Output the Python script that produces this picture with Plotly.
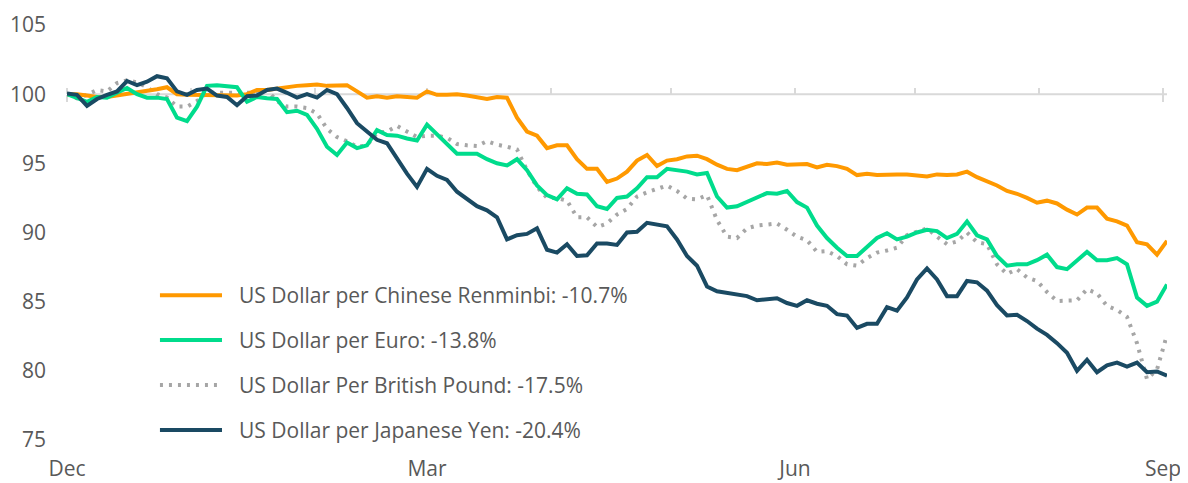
import pandas as pd
import plotly.graph_objects as go

# ---------------- data (index level, start = 100) ----------------
start_date = "2021-12-01"
step = "60h"

cny = [100.0, 100.0, 99.9, 99.8, 99.8, 99.9, 100.05, 100.15, 100.25, 100.35,
       100.5, 100.0, 99.95, 99.95, 99.9, 99.9, 99.95, 99.9, 100.0, 100.3,
       100.3, 100.4, 100.55, 100.6, 100.65, 100.7, 100.6, 100.65, 100.65, 100.2,
       99.75, 99.85, 99.75, 99.85, 99.8, 99.75, 100.2, 99.95, 99.95, 100.0,
       99.9, 99.8, 99.65, 99.8, 99.75, 98.3, 97.3, 97.0, 96.1, 96.3,
       96.3, 95.3, 94.6, 94.6, 93.65, 93.9, 94.4, 95.2, 95.6, 94.8,
       95.2, 95.3, 95.5, 95.55, 95.3, 94.9, 94.6, 94.5, 94.75, 95.0,
       94.95, 95.05, 94.9, 94.95, 94.95, 94.7, 94.9, 94.8, 94.6, 94.15,
       94.25, 94.15, 94.2, 94.2, 94.2, 94.1, 94.05, 94.2, 94.15, 94.2,
       94.4, 94.0, 93.7, 93.4, 93.0, 92.8, 92.5, 92.15, 92.3, 92.1,
       91.65, 91.3, 91.8, 91.8, 91.0, 90.8, 90.5, 89.3, 89.15, 88.4,
       89.4]

eur = [100.0, 99.75, 99.45, 99.8, 99.75, 100.1, 100.45, 100.0, 99.75, 99.75,
       99.65, 98.3, 98.05, 99.1, 100.6, 100.65, 100.55, 100.5, 99.45, 99.8,
       99.7, 99.65, 98.7, 98.8, 98.5, 97.5, 96.2, 95.6, 96.5, 96.1,
       96.3, 97.4, 97.05, 97.0, 96.8, 96.65, 97.8, 97.1, 96.3, 95.7,
       95.7, 95.7, 95.3, 95.0, 94.85, 95.3, 94.5, 93.4, 92.7, 92.4,
       93.2, 92.8, 92.75, 91.9, 91.7, 92.5, 92.6, 93.2, 94.0, 94.0,
       94.6, 94.5, 94.4, 94.2, 94.3, 92.6, 91.8, 91.9, 92.2, 92.5,
       92.85, 92.8, 93.0, 92.2, 91.8, 90.5, 89.6, 88.9, 88.3, 88.3,
       89.0, 89.6, 89.95, 89.5, 89.7, 90.0, 90.2, 90.1, 89.6, 89.9,
       90.8, 89.8, 89.5, 88.3, 87.6, 87.7, 87.7, 88.0, 88.4, 87.5,
       87.35, 88.0, 88.6, 88.0, 88.0, 88.15, 87.7, 85.3, 84.7, 85.0,
       86.25]

gbp = [100.0, 99.7, 99.95, 100.3, 100.2, 100.8, 101.0, 100.85, 100.5, 100.0,
       99.75, 99.1, 99.1, 99.5, 100.1, 100.1, 100.05, 100.05, 100.1, 100.1,
       100.3, 99.5, 99.1, 99.1, 99.0, 98.6, 97.5, 96.9, 96.6, 96.2,
       96.3, 97.2, 97.3, 97.7, 97.3, 96.9, 97.0, 97.0, 96.85, 96.4,
       96.3, 96.25, 96.6, 96.35, 96.2, 96.0, 94.5, 93.3, 92.5, 92.5,
       92.3, 91.1, 91.1, 90.4, 90.65, 91.3, 91.7, 92.6, 92.9, 93.15,
       93.4, 93.0, 92.45, 92.4, 92.7, 90.9, 89.7, 89.6, 90.3, 90.5,
       90.6, 90.65, 90.2, 89.7, 89.45, 88.6, 88.65, 88.3, 87.7, 87.6,
       88.15, 88.55, 88.7, 88.9, 89.8, 90.05, 90.3, 89.7, 89.15, 89.35,
       90.0, 89.3, 89.15, 87.7, 87.0, 87.35, 86.75, 86.5, 85.7, 85.05,
       85.05, 85.1, 85.9, 85.6, 84.7, 84.4, 83.9, 82.0, 79.4, 80.1,
       82.6]

jpy = [100.05, 99.95, 99.15, 99.65, 99.95, 100.2, 100.95, 100.65, 100.9, 101.3,
       101.15, 100.2, 99.95, 100.3, 100.4, 99.9, 99.8, 99.2, 99.85, 99.9,
       100.3, 100.4, 100.1, 99.75, 100.0, 99.75, 100.3, 100.0, 99.0, 97.9,
       97.3, 96.7, 96.45, 95.3, 94.25, 93.3, 94.6, 94.1, 93.8, 92.95,
       92.45, 91.9, 91.6, 91.1, 89.5, 89.8, 89.9, 90.3, 88.75, 88.55,
       89.15, 88.3, 88.35, 89.2, 89.2, 89.1, 90.0, 90.05, 90.7, 90.6,
       90.45, 89.5, 88.3, 87.6, 86.1, 85.75, 85.65, 85.5, 85.4, 85.1,
       85.2, 85.25, 84.9, 84.7, 85.1, 84.85, 84.7, 84.1, 84.0, 83.1,
       83.4, 83.4, 84.6, 84.35, 85.3, 86.6, 87.4, 86.6, 85.4, 85.4,
       86.5, 86.4, 85.8, 84.75, 84.0, 84.05, 83.6, 83.05, 82.6, 82.0,
       81.3, 80.0, 80.8, 79.9, 80.4, 80.6, 80.3, 80.6, 79.9, 79.95,
       79.65]

series_names = [
    "US Dollar per Chinese Renminbi: -10.7%",
    "US Dollar per Euro: -13.8%",
    "US Dollar Per British Pound: -17.5%",
    "US Dollar per Japanese Yen: -20.4%",
]
tick_dates = ["2021-12-01", "2022-03-01", "2022-06-01", "2022-09-01"]
tick_labels = ["Dec", "Mar", "Jun", "Sep"]
y_ticks = [75, 80, 85, 90, 95, 100, 105]
base_level = 100

# ---------------- styling ----------------
colors = ["#FF9900", "#00DC8C", "#A6A6A6", "#1A4A63"]
dashes = ["solid", "solid", "3px,6px", "solid"]
text_color = "#595959"
axis_gray = "#D9D9D9"
FONT = "Open Sans"
FS = 21

dates = pd.date_range(start_date, periods=len(cny), freq=step)
x_range = [dates[0], dates[-1]]
y_range = [75, 105]

values = [cny, eur, gbp, jpy]
draw_order = [2, 0, 1, 3]

fig = go.Figure()
for k in draw_order:
    fig.add_trace(go.Scatter(
        x=dates, y=values[k], mode="lines", name=series_names[k],
        line=dict(color=colors[k], width=4, dash=dashes[k]),
        showlegend=False,
    ))

# invisible helper traces so the tick-only axes at the 100 level get drawn
for ax in ["x2", "x3"]:
    fig.add_trace(go.Scatter(
        x=dates, y=cny, xaxis=ax, mode="lines", opacity=0,
        line=dict(width=0), hoverinfo="skip", showlegend=False,
    ))

# manual legend (long sample lines like the reference)
legend_rows_y = [0.349, 0.241, 0.1325, 0.024]
for k in range(4):
    fig.add_shape(type="line", xref="paper", yref="paper",
                  x0=0.0845, x1=0.1409, y0=legend_rows_y[k], y1=legend_rows_y[k],
                  line=dict(color=colors[k], width=4, dash=dashes[k]))
    fig.add_annotation(xref="paper", yref="paper", x=0.1545, y=legend_rows_y[k],
                       text=series_names[k], showarrow=False,
                       xanchor="left", yanchor="middle",
                       font=dict(family=FONT, size=FS, color=text_color))

# baseline line at 100 drawn in data space
fig.add_shape(type="line", xref="x", yref="y",
              x0=x_range[0], x1=x_range[1], y0=base_level, y1=base_level,
              line=dict(color=axis_gray, width=2), layer="below")

pos100 = (base_level - y_range[0]) / (y_range[1] - y_range[0])

# page body has an 8px margin, so the figure is sized to fit inside the window
fig.update_layout(
    width=1180, height=475,
    margin=dict(l=59, r=21, t=17, b=43),
    paper_bgcolor="white", plot_bgcolor="white",
    font=dict(family=FONT, size=FS, color=text_color),
    showlegend=False,
    xaxis=dict(
        type="date", range=x_range, automargin=False,
        tickvals=tick_dates, ticktext=tick_labels,
        showgrid=False, zeroline=False, showline=False, ticks="",
        ticklabelstandoff=14,
        tickfont=dict(family=FONT, size=FS, color=text_color),
    ),
    xaxis2=dict(
        type="date", range=x_range, overlaying="x", matches="x",
        anchor="free", position=pos100, side="top", automargin=False,
        showline=False, showgrid=False, zeroline=False,
        showticklabels=False, ticks="outside", ticklen=6, tickwidth=2,
        tickcolor=axis_gray, dtick="M1", tick0=start_date,
        layer="below traces",
    ),
    xaxis3=dict(
        type="date", range=x_range, overlaying="x", matches="x",
        anchor="free", position=pos100, side="bottom", automargin=False,
        showline=False, showgrid=False, zeroline=False,
        showticklabels=False, ticks="outside", ticklen=7, tickwidth=2,
        tickcolor=axis_gray, tickvals=[tick_dates[0], tick_dates[-1]],
        layer="below traces",
    ),
    yaxis=dict(
        range=y_range, tickvals=y_ticks, automargin=False,
        showgrid=False, zeroline=False, showline=False, ticks="",
        ticklabelstandoff=20,
        tickfont=dict(family=FONT, size=FS, color=text_color),
    ),
)

fig.write_html("out.html")
